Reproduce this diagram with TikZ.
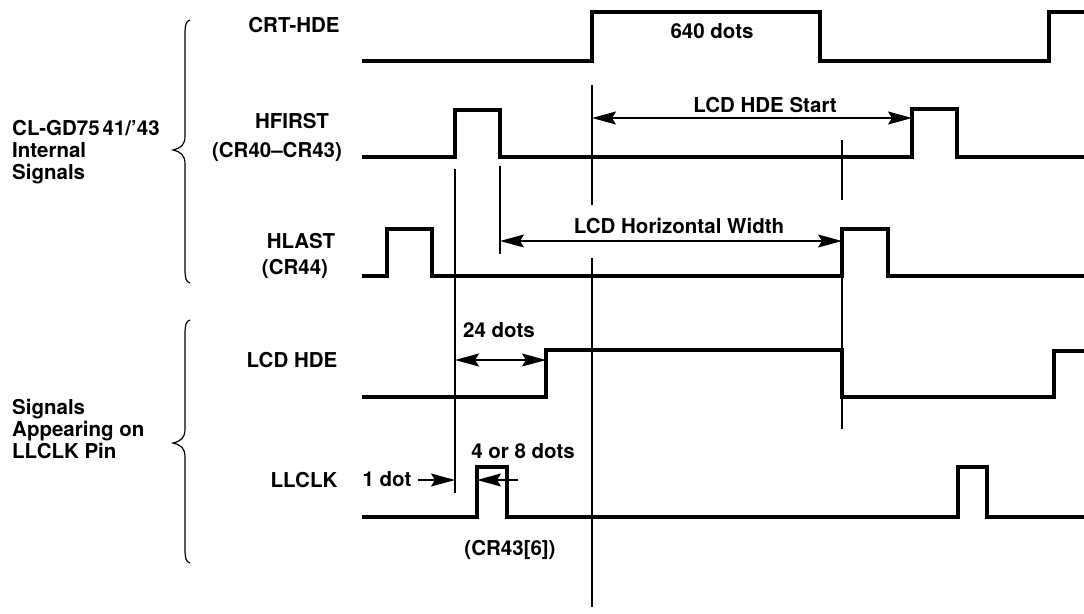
\documentclass[tikz,border=0pt]{standalone}
\usepackage{fontspec}
\setmainfont{TeX Gyre Heros}
\usetikzlibrary{arrows.meta}
\begin{document}
\begin{tikzpicture}[x=1pt,y=-1pt,
  sig/.style={line width=3.3pt, line join=miter, line cap=butt},
  guide/.style={line width=1.4pt},
  dimline/.style={line width=1.4pt},
  tip/.tip={Stealth[length=24pt,width=13pt,inset=4pt]},
  dimboth/.style={dimline, tip-tip},
  dimone/.style={dimline, -tip},
  brace/.style={line width=1.2pt},
  lbl/.style={font=\fontsize{20.5}{22}\selectfont\bfseries, inner sep=0pt, anchor=base},
  grp/.style={lbl, anchor=base west}]
\useasboundingbox (0,0) rectangle (1084,613);

% signal labels
\node[lbl] (crt) at (294,32) {CRT-HDE};
\node[lbl] (hfirst) at (292,128) {HFIRST};
\node[lbl] (hfirstcr) at (277,157) {(CR40–CR43)};
\node[lbl] (hlast) at (301,248) {HLAST};
\node[lbl] (hlastcr) at (295,274) {(CR44)};
\node[lbl] (lcdhde) at (292,367) {LCD HDE};
\node[lbl] (llclk) at (304,487) {LLCLK};

% group labels
\node[grp] (ga) at (12,135) {CL-GD75\kern3pt 41/’43};
\node[grp] (gb) at (12,157) {Internal};
\node[grp] (gc) at (12,179) {Signals};
\node[grp] (gd) at (12,414) {Signals};
\node[grp] (ge) at (12,436) {Appearing on};
\node[grp] (gf) at (12,458) {LLCLK Pin};

% braces
\draw[brace] (190,20) .. controls (186,21) and (185,25) .. (185,34) -- (185,136)
  .. controls (185,145) and (181,148) .. (173,150)
  .. controls (181,152) and (185,155) .. (185,164) -- (185,269)
  .. controls (185,278) and (186,282) .. (190,283);
\draw[brace] (190,320) .. controls (186,321) and (185,325) .. (185,334) -- (185,429)
  .. controls (185,438) and (181,441) .. (173,443)
  .. controls (181,445) and (185,448) .. (185,457) -- (185,549)
  .. controls (185,558) and (186,562) .. (190,563);

% signals
\draw[sig] (362,61) -- (592,61) -- (592,12) -- (820,12) -- (820,61) -- (1049,61) -- (1049,12) -- (1084,12);
\draw[sig] (362,157) -- (455,157) -- (455,110) -- (500,110) -- (500,157) -- (912,157) -- (912,109) -- (957,109) -- (957,157) -- (1084,157);
\draw[sig] (362,276) -- (387,276) -- (387,229) -- (432,229) -- (432,276) -- (842,276) -- (842,229) -- (888,229) -- (888,276) -- (1084,276);
\draw[sig] (362,397) -- (546,397) -- (546,350) -- (842,350) -- (842,397) -- (1054,397) -- (1054,351) -- (1084,351);
\draw[sig] (362,517) -- (477,517) -- (477,467) -- (507,467) -- (507,517) -- (958,517) -- (958,467) -- (987,467) -- (987,517) -- (1084,517);

% guide lines
\draw[guide] (592,85) -- (592,205);
\draw[guide] (592,258) -- (592,607);
\draw[guide] (455,169) -- (455,493);
\draw[guide] (500,166) -- (500,254);
\draw[guide] (842,140) -- (842,200);
\draw[guide] (842,229) -- (842,429);

% dimension end points
\coordinate (startL) at (592,118);
\coordinate (startR) at (912,118);
\coordinate (widthL) at (500,241);
\coordinate (widthR) at (842,241);
\coordinate (dotsL) at (455,360);
\coordinate (dotsR) at (546,360);
\coordinate (onetail) at (418,480);
\coordinate (onehead) at (455,480);
\coordinate (fourtail) at (518,480);
\coordinate (fourhead) at (477,480);

\draw[dimboth] (startL) -- (startR);
\draw[dimboth] (widthL) -- (widthR);
\draw[dimboth] (dotsL) -- (dotsR);
\draw[dimone] (onetail) -- (onehead);
\draw[dimone] (fourtail) -- (fourhead);

% dimension labels
\node[lbl] (t640) at (712,38) {640 dots};
\node[lbl] (tstart) at (765,112) {LCD HDE Start};
\node[lbl] (twidth) at (679,233) {LCD Horizontal Width};
\node[lbl] (t24) at (499,337) {24 dots};
\node[lbl] (t1) at (387,486) {1 dot};
\node[lbl] (t48) at (523,458) {4 or 8 dots};
\node[lbl] (tcr) at (510,555) {(CR43[6])};
\end{tikzpicture}
\end{document}
